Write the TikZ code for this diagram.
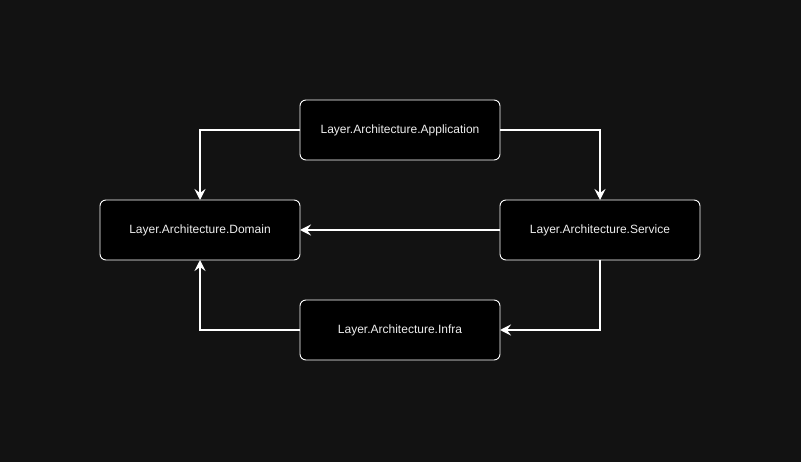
\documentclass[tikz,border=0pt]{standalone}
\usepackage{fontspec}
\setmainfont{Liberation Sans}
\usepackage{tikz}
\usetikzlibrary{positioning, arrows.meta}
\usepackage{xcolor}
\definecolor{bgdark}{HTML}{121212}
\definecolor{txtlight}{HTML}{EEEEEE}

\begin{document}
\begin{tikzpicture}[
                  x=1pt, y=-1pt,
                  layer/.style={draw=white, fill=black, rounded corners=6pt, line width=0.9pt,
                                text=txtlight, font=\fontsize{12}{14}\selectfont,
                                minimum width=200pt, minimum height=60pt, align=center},
                  arr/.style={-{Stealth[length=11pt, width=11pt, inset=4pt]}, white, line width=2.5pt},
                  every node/.append style={outer sep=0pt, inner sep=0pt},
            ]
            % background and margins
            \fill[bgdark] (0,0) rectangle (801,462);
            \useasboundingbox (0,0) rectangle (801,462);

            % Row 1: application
            \node[layer] (app) at (400,130) {Layer.Architecture.Application};

            % Row 2: domain and service
            \node[layer, below left=40pt and 0pt of app] (dom) {Layer.Architecture.Domain};
            \node[layer, below right=40pt and 0pt of app] (svc) {Layer.Architecture.Service};

            % Row 3: infra
            \node[layer, below right=40pt and 0pt of dom] (inf) {Layer.Architecture.Infra};

            % Arrows
            \draw[arr] (app.west) -| (dom.north);
            \draw[arr] (app.east) -| (svc.north);
            \draw[arr] (svc.west) -- (dom.east);
            \draw[arr] (svc.south) |- (inf.east);
            \draw[arr] (inf.west) -| (dom.south);

      \end{tikzpicture}
\end{document}
